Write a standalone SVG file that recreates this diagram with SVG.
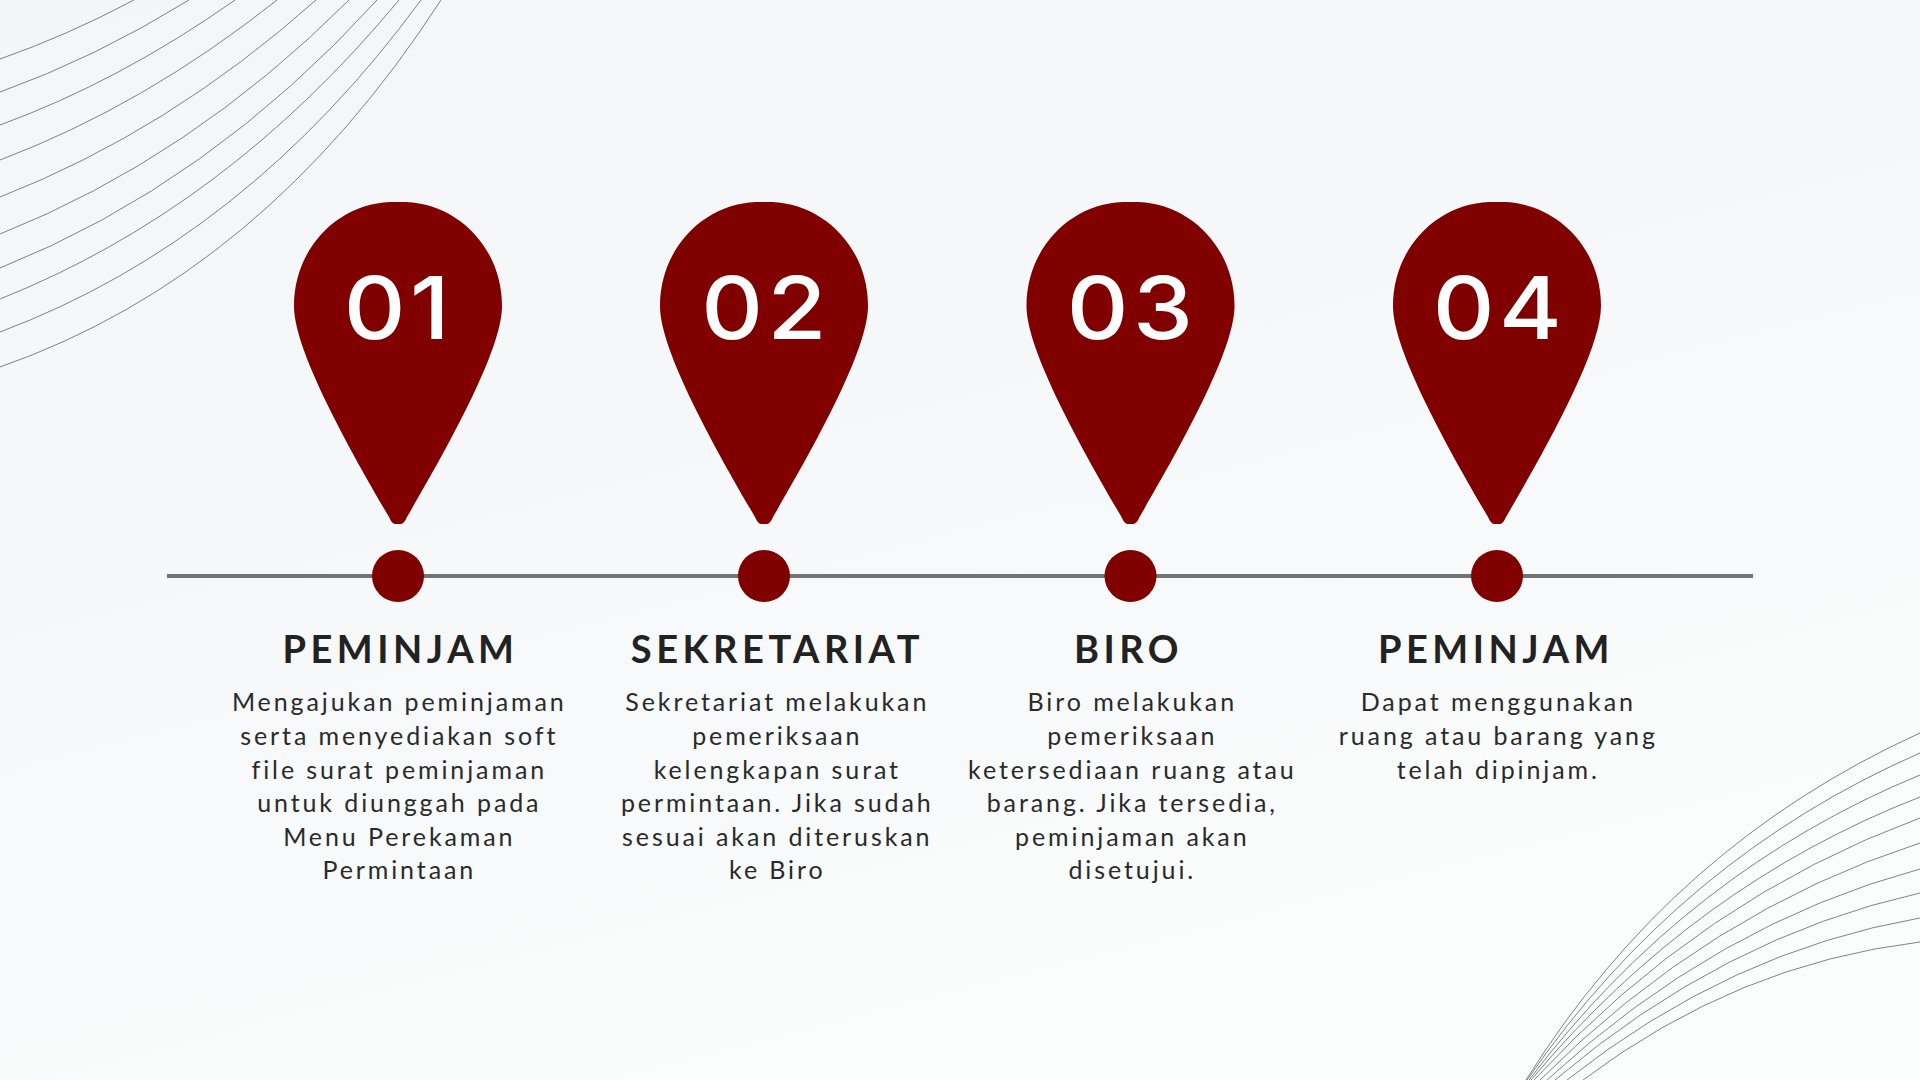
<svg xmlns="http://www.w3.org/2000/svg" width="1920" height="1080" viewBox="0 0 1920 1080">
<style>
.curve{fill:none;stroke:#5c5c5c;stroke-width:.9;stroke-opacity:.85}
.pin,.dot{fill:#800000}
.num{font-family:"Inter","Liberation Sans",sans-serif;font-weight:550;font-size:87px;fill:#fff;text-anchor:middle;letter-spacing:4px}
.title{font-family:"Lato","Liberation Sans",sans-serif;font-weight:700;font-size:38px;fill:#222;text-anchor:middle;letter-spacing:4.5px}
.body{font-family:"Lato","Liberation Sans",sans-serif;font-weight:400;font-size:25px;fill:#2a2a2a;text-anchor:middle;letter-spacing:2.9px}
</style>
<defs>
<linearGradient id="bg" x1="0" y1="0" x2="0.45" y2="1"><stop offset="0" stop-color="#f3f5f7"/><stop offset=".55" stop-color="#f6f8f9"/><stop offset="1" stop-color="#fbfcfc"/></linearGradient>
<path id="pinShape" d="M8 202C60 204 104 248 104 306C104 346 60 430 9 517Q6 524 3 524L-3 524Q-6 524 -9 517C-60 430 -104 346 -104 306C-104 248 -60 204 -8 202Z"/>
</defs>
<rect width="1920" height="1080" fill="url(#bg)"/>
<g id="curves-top-left">
<path class="curve" d="M0 59Q66 36 134 0"/>
<path class="curve" d="M0 92Q95 58 189 0"/>
<path class="curve" d="M0 125Q120 81 235 0"/>
<path class="curve" d="M0 160Q145 105 277 0"/>
<path class="curve" d="M0 197Q169 131 316 0"/>
<path class="curve" d="M0 234Q191 158 349 0"/>
<path class="curve" d="M0 268Q210 184 377 0"/>
<path class="curve" d="M0 299Q226 209 399 0"/>
<path class="curve" d="M0 332Q245 240 421 0"/>
<path class="curve" d="M0 367Q263 275 441 0"/>
</g>
<g id="curves-bottom-right">
<path class="curve" d="M1526 1080Q1673 845 1920 733"/>
<path class="curve" d="M1527 1080Q1680 858 1920 753"/>
<path class="curve" d="M1529 1080Q1687 871 1920 775"/>
<path class="curve" d="M1531 1080Q1694 885 1920 797"/>
<path class="curve" d="M1534 1080Q1702 898 1920 818"/>
<path class="curve" d="M1540 1080Q1709 911 1920 843"/>
<path class="curve" d="M1547 1080Q1716 924 1920 869"/>
<path class="curve" d="M1555 1080Q1723 937 1920 893"/>
<path class="curve" d="M1567 1080Q1730 951 1920 918"/>
<path class="curve" d="M1583 1080Q1737 964 1920 942"/>
</g>
<g id="connectors">
<line x1="167" y1="576" x2="1753" y2="576" stroke="#737373" stroke-width="4"/>
</g>
<g id="step-1">
<use class="pin" href="#pinShape" x="398"/>
<text class="num" transform="translate(399 339) scale(1.1 1)">01</text>
<circle class="dot" cx="398" cy="576" r="26"/>
<text class="title" x="400.5" y="662.7">PEMINJAM</text>
<text class="body"><tspan x="399.3" y="711.4">Mengajukan peminjaman</tspan><tspan x="399.3" y="745">serta menyediakan soft</tspan><tspan x="399.3" y="778.6">file surat peminjaman</tspan><tspan x="399.3" y="812.2">untuk diunggah pada</tspan><tspan x="399.3" y="845.8">Menu Perekaman</tspan><tspan x="399.3" y="879.4">Permintaan</tspan></text>
</g>
<g id="step-2">
<use class="pin" href="#pinShape" x="764"/>
<text class="num" transform="translate(766 339) scale(1.1 1)">02</text>
<circle class="dot" cx="764" cy="576" r="26"/>
<text class="title" x="777.5" y="662.7">SEKRETARIAT</text>
<text class="body"><tspan x="777.3" y="711.4">Sekretariat melakukan</tspan><tspan x="777.3" y="745">pemeriksaan</tspan><tspan x="777.3" y="778.6">kelengkapan surat</tspan><tspan x="777.3" y="812.2">permintaan. Jika sudah</tspan><tspan x="777.3" y="845.8">sesuai akan diteruskan</tspan><tspan x="777.3" y="879.4">ke Biro</tspan></text>
</g>
<g id="step-3">
<use class="pin" href="#pinShape" x="1130.5"/>
<text class="num" transform="translate(1132 339) scale(1.1 1)">03</text>
<circle class="dot" cx="1130.5" cy="576" r="26"/>
<text class="title" x="1128.5" y="662.7">BIRO</text>
<text class="body"><tspan x="1132.3" y="711.4">Biro melakukan</tspan><tspan x="1132.3" y="745">pemeriksaan</tspan><tspan x="1132.3" y="778.6">ketersediaan ruang atau</tspan><tspan x="1132.3" y="812.2">barang. Jika tersedia,</tspan><tspan x="1132.3" y="845.8">peminjaman akan</tspan><tspan x="1132.3" y="879.4">disetujui.</tspan></text>
</g>
<g id="step-4">
<use class="pin" href="#pinShape" x="1497"/>
<text class="num" transform="translate(1499.5 339) scale(1.1 1)">04</text>
<circle class="dot" cx="1497" cy="576" r="26"/>
<text class="title" x="1496" y="662.7">PEMINJAM</text>
<text class="body"><tspan x="1498.3" y="711.4">Dapat menggunakan</tspan><tspan x="1498.3" y="745">ruang atau barang yang</tspan><tspan x="1498.3" y="778.6">telah dipinjam.</tspan></text>
</g>
</svg>
